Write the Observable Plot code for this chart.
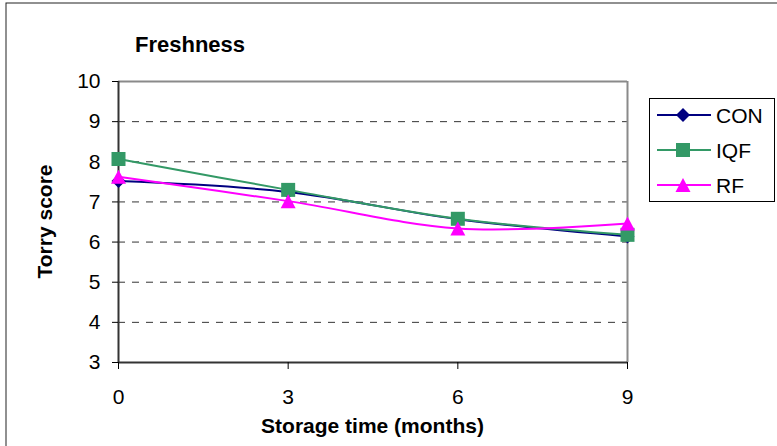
<!DOCTYPE html>
<html>
<head>
<meta charset="utf-8">
<script src="https://cdn.jsdelivr.net/npm/d3@7"></script>
<script src="https://cdn.jsdelivr.net/npm/@observablehq/plot@0.6"></script>
<style>
  body { margin: 0; background: #fff; }
  #chart svg { display: block; }
</style>
</head>
<body>
<div id="chart"></div>
<script>
// ---- data ----
const months = [0, 3, 6, 9];
const CON = [7.52, 7.25, 6.57, 6.14];
const IQF = [8.07, 7.30, 6.58, 6.18];
const RF  = [7.63, 7.02, 6.34, 6.46];
const seriesNames = ["CON", "IQF", "RF"];
const seriesColors = ["#000080", "#339966", "#FF00FF"];
const xTicks = [0, 3, 6, 9];
const yTicks = [3, 4, 5, 6, 7, 8, 9, 10];
const chartTitle = "Freshness";
const xTitle = "Storage time (months)";
const yTitle = "Torry score";

const seriesValues = { CON, IQF, RF };
const rows = seriesNames.flatMap(s => months.map((m, i) => ({ series: s, month: m, score: seriesValues[s][i] })));

// marker shapes (Excel-like)
const markerShapes = {
  CON: { draw(ctx) { const r = 7; ctx.moveTo(0, -r); ctx.lineTo(r, 0); ctx.lineTo(0, r); ctx.lineTo(-r, 0); ctx.closePath(); } },
  IQF: { draw(ctx) { const h = 7; ctx.moveTo(-h, -h); ctx.lineTo(h, -h); ctx.lineTo(h, h); ctx.lineTo(-h, h); ctx.closePath(); } },
  RF:  { draw(ctx) { const w = 7.5, h = 7; ctx.moveTo(0, -h); ctx.lineTo(w, h); ctx.lineTo(-w, h); ctx.closePath(); } }
};

const FONT = "'Liberation Sans', Arial, Helvetica, sans-serif";
const smooth = d3.curveCardinal.tension(0);

const seriesMarks = seriesNames.flatMap((s, i) => {
  const d = rows.filter(r => r.series === s);
  return [
    Plot.line(d, { x: "month", y: "score", stroke: seriesColors[i], strokeWidth: 2, curve: smooth }),
    Plot.dot(d, { x: "month", y: "score", fill: seriesColors[i], stroke: "none", symbol: markerShapes[s], r: 7 })
  ];
});

const W = 777, H = 446;
const mL = 118, mR = 150, mT = 81, mB = 84;

const svgNode = Plot.plot({
  width: W, height: H,
  marginLeft: mL, marginRight: mR, marginTop: mT, marginBottom: mB,
  style: { fontFamily: FONT, fontSize: "21px", color: "#000", background: "#fff", overflow: "visible" },
  x: { domain: [0, 9], ticks: xTicks },
  y: { domain: [3, 10], ticks: yTicks },
  marks: [
    Plot.gridY(yTicks.slice(1, -1), { stroke: "#000", strokeOpacity: 0.8, strokeWidth: 1, strokeDasharray: "7,7" }),
    Plot.ruleY([10], { stroke: "#8a8a8a", strokeWidth: 2 }),
    Plot.ruleX([9], { stroke: "#8a8a8a", strokeWidth: 2 }),
    Plot.ruleX([0], { stroke: "#333", strokeWidth: 2 }),
    Plot.ruleY([3], { stroke: "#333", strokeWidth: 2 }),
    Plot.axisX({ ticks: xTicks, tickSize: 7, tickPadding: 20, label: null, tickFormat: d => String(d) }),
    Plot.axisY({ ticks: yTicks, tickSize: 6, tickPadding: 12, label: null, tickFormat: d => String(d) }),
    ...seriesMarks
  ]
});

document.getElementById("chart").appendChild(svgNode);
const svg = d3.select(svgNode);

// outer chart border (only top and left visible in the crop)
svg.append("rect")
  .attr("x", 6).attr("y", 3).attr("width", W + 10).attr("height", H + 10)
  .attr("fill", "none").attr("stroke", "#222").attr("stroke-width", 1);

// title
svg.append("text")
  .attr("x", 135).attr("y", 52).attr("text-anchor", "start")
  .attr("font-family", FONT).attr("font-weight", "bold").attr("font-size", 22)
  .attr("fill", "#000").text(chartTitle);

// axis titles
svg.append("text")
  .attr("x", mL + (W - mL - mR) / 2).attr("y", 433)
  .attr("text-anchor", "middle")
  .attr("font-family", FONT).attr("font-weight", "bold").attr("font-size", 21)
  .attr("fill", "#000").text(xTitle);

svg.append("text")
  .attr("transform", `translate(52,${mT + (H - mT - mB) / 2}) rotate(-90)`)
  .attr("text-anchor", "middle")
  .attr("font-family", FONT).attr("font-weight", "bold").attr("font-size", 21)
  .attr("fill", "#000").text(yTitle);

// legend
const lg = svg.append("g");
lg.append("rect").attr("x", 649.5).attr("y", 98.5).attr("width", 125).attr("height", 103)
  .attr("fill", "#fff").attr("stroke", "#000").attr("stroke-width", 1);
seriesNames.forEach((s, i) => {
  const y = 115 + i * 35;
  lg.append("line").attr("x1", 657).attr("x2", 711).attr("y1", y).attr("y2", y)
    .attr("stroke", seriesColors[i]).attr("stroke-width", 2);
  lg.append("path").attr("transform", `translate(683,${y})`)
    .attr("d", d3.symbol(markerShapes[s])()).attr("fill", seriesColors[i]);
  lg.append("text").attr("x", 716).attr("y", y + 7.5).attr("text-anchor", "start")
    .attr("font-family", FONT).attr("font-size", 21).attr("fill", "#000").text(s);
});
</script>
</body>
</html>
